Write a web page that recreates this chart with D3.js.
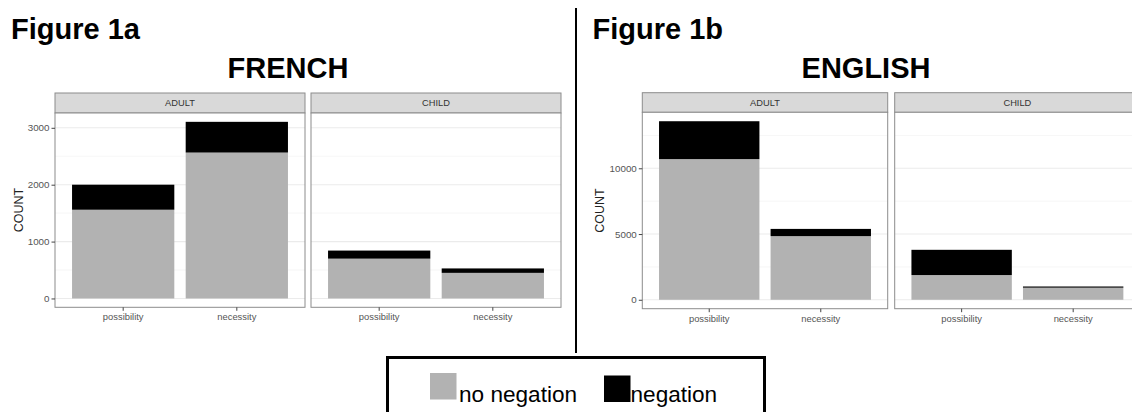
<!DOCTYPE html>
<html>
<head>
<meta charset="utf-8">
<script src="https://cdn.jsdelivr.net/npm/d3@7"></script>
<style>
  html, body { margin: 0; padding: 0; background: #fff; }
  svg { display: block; font-family: "Liberation Sans", Arial, sans-serif; }
</style>
</head>
<body>
<svg id="chart" width="1132" height="412"></svg>
<script>
// ---------------- DATA ----------------
const categories = ["possibility", "necessity"];
const speakers = ["ADULT", "CHILD"];
const seriesNames = ["no negation", "negation"];

// French counts (per speaker, per category)
const frenchAdultNoNeg = [1560, 2565];
const frenchAdultNeg   = [440, 540];
const frenchChildNoNeg = [700, 450];
const frenchChildNeg   = [142, 78];
const frenchTicks = [0, 1000, 2000, 3000];
const frenchMinor = [500, 1500, 2500];

// English counts
const englishAdultNoNeg = [10700, 4840];
const englishAdultNeg   = [2880, 550];
const englishChildNoNeg = [1880, 920];
const englishChildNeg   = [1920, 90];
const englishTicks = [0, 5000, 10000];
const englishMinor = [2500, 7500, 12500];

// ---------------- STYLE / LAYOUT ----------------
const FONT = "'Liberation Sans', Arial, sans-serif";
const colors = { "no negation": "#b2b2b2", "negation": "#000000" };

const svg = d3.select("#chart");

function drawFigure(cfg) {
  const g = svg.append("g");
  const allTotals = [];
  cfg.panels.forEach(p => p.noNeg.forEach((v, i) => allTotals.push(v + p.neg[i])));
  const maxT = d3.max(allTotals);
  const y = d3.scaleLinear()
    .domain([-0.05 * maxT, 1.05 * maxT])
    .range([cfg.panelBottom, cfg.panelTop]);

  // figure label and title
  g.append("text").attr("x", cfg.figX).attr("y", 39)
    .attr("font-size", 29).attr("font-weight", "bold").attr("fill", "#000")
    .text(cfg.figLabel);
  g.append("text").attr("x", cfg.titleX).attr("y", 78)
    .attr("text-anchor", "middle")
    .attr("font-size", 29).attr("font-weight", "bold").attr("fill", "#000")
    .text(cfg.title);

  cfg.panels.forEach((p, pi) => {
    const x0 = cfg.panelLefts[pi];
    const x = d3.scaleBand().domain(categories)
      .range([x0, x0 + cfg.panelWidth])
      .paddingInner(0.1).paddingOuter(0.15);

    // strip
    g.append("rect")
      .attr("x", x0).attr("y", cfg.stripTop)
      .attr("width", cfg.panelWidth).attr("height", cfg.panelTop - cfg.stripTop)
      .attr("fill", "#d9d9d9").attr("stroke", "#8c8c8c").attr("stroke-width", 1);
    g.append("text")
      .attr("x", x0 + cfg.panelWidth / 2)
      .attr("y", (cfg.stripTop + cfg.panelTop) / 2 + 3.3)
      .attr("text-anchor", "middle").attr("font-size", 9.3).attr("fill", "#333")
      .text(p.name);

    // panel background + grid
    g.append("rect")
      .attr("x", x0).attr("y", cfg.panelTop)
      .attr("width", cfg.panelWidth).attr("height", cfg.panelBottom - cfg.panelTop)
      .attr("fill", "#fff");
    g.selectAll(null).data(cfg.minor).enter().append("line")
      .attr("x1", x0).attr("x2", x0 + cfg.panelWidth)
      .attr("y1", d => y(d)).attr("y2", d => y(d))
      .attr("stroke", "#f4f4f4").attr("stroke-width", 0.8);
    g.selectAll(null).data(cfg.ticks).enter().append("line")
      .attr("x1", x0).attr("x2", x0 + cfg.panelWidth)
      .attr("y1", d => y(d)).attr("y2", d => y(d))
      .attr("stroke", "#ebebeb").attr("stroke-width", 1.1);

    // stacked bars
    const rows = categories.map((c, i) => ({ cat: c, "no negation": p.noNeg[i], "negation": p.neg[i] }));
    const stacked = d3.stack().keys(seriesNames)(rows);
    stacked.forEach(layer => {
      g.selectAll(null).data(layer).enter().append("rect")
        .attr("x", d => x(d.data.cat))
        .attr("width", x.bandwidth())
        .attr("y", d => y(d[1]))
        .attr("height", d => y(d[0]) - y(d[1]))
        .attr("fill", colors[layer.key]);
    });

    // panel border
    g.append("rect")
      .attr("x", x0).attr("y", cfg.panelTop)
      .attr("width", cfg.panelWidth).attr("height", cfg.panelBottom - cfg.panelTop)
      .attr("fill", "none").attr("stroke", "#8c8c8c").attr("stroke-width", 1);

    // x axis
    const xAxis = g.append("g")
      .attr("transform", `translate(0,${cfg.panelBottom})`)
      .call(d3.axisBottom(x).tickSize(3.5).tickPadding(3).tickSizeOuter(0));
    xAxis.select(".domain").remove();
    xAxis.selectAll("line").attr("stroke", "#444");
    xAxis.selectAll("text").attr("font-size", 9.4).attr("fill", "#555").attr("font-family", FONT);

    // y axis on first panel
    if (pi === 0) {
      const yAxis = g.append("g")
        .attr("transform", `translate(${x0},0)`)
        .call(d3.axisLeft(y).tickValues(cfg.ticks).tickFormat(d3.format("d"))
          .tickSize(3.5).tickPadding(2).tickSizeOuter(0));
      yAxis.select(".domain").remove();
      yAxis.selectAll("line").attr("stroke", "#444");
      yAxis.selectAll("text").attr("font-size", 9.8).attr("fill", "#555").attr("font-family", FONT);
      g.append("text")
        .attr("transform", `translate(${cfg.yLabelX},${(cfg.panelTop + cfg.panelBottom) / 2}) rotate(-90)`)
        .attr("text-anchor", "middle").attr("font-size", 12.5).attr("fill", "#222")
        .text("COUNT");
    }
  });
}

drawFigure({
  figLabel: "Figure 1a", figX: 11, title: "FRENCH", titleX: 288,
  stripTop: 93, panelTop: 113, panelBottom: 307.3,
  panelLefts: [55, 311], panelWidth: 250, yLabelX: 22.5,
  ticks: frenchTicks, minor: frenchMinor,
  panels: [
    { name: speakers[0], noNeg: frenchAdultNoNeg, neg: frenchAdultNeg },
    { name: speakers[1], noNeg: frenchChildNoNeg, neg: frenchChildNeg }
  ]
});

drawFigure({
  figLabel: "Figure 1b", figX: 592.5, title: "ENGLISH", titleX: 866,
  stripTop: 92.7, panelTop: 112.3, panelBottom: 308.7,
  panelLefts: [642.3, 894.7], panelWidth: 245.4, yLabelX: 604,
  ticks: englishTicks, minor: englishMinor,
  panels: [
    { name: speakers[0], noNeg: englishAdultNoNeg, neg: englishAdultNeg },
    { name: speakers[1], noNeg: englishChildNoNeg, neg: englishChildNeg }
  ]
});

// divider
svg.append("line").attr("x1", 576).attr("x2", 576).attr("y1", 8).attr("y2", 353)
  .attr("stroke", "#000").attr("stroke-width", 2);

// legend
const leg = svg.append("g");
leg.append("rect").attr("x", 387.5).attr("y", 357.5).attr("width", 377).attr("height", 80)
  .attr("fill", "#fff").attr("stroke", "#000").attr("stroke-width", 3);
const legItems = [
  { name: seriesNames[0], sx: 430, sy: 373, tx: 459 },
  { name: seriesNames[1], sx: 604, sy: 375.5, tx: 630.5 }
];
legItems.forEach(it => {
  leg.append("rect").attr("x", it.sx).attr("y", it.sy).attr("width", 26.5).attr("height", 26.5)
    .attr("fill", colors[it.name]);
  leg.append("text").attr("x", it.tx).attr("y", 402).attr("font-size", 22.6).attr("fill", "#000")
    .text(it.name);
});
</script>
</body>
</html>
